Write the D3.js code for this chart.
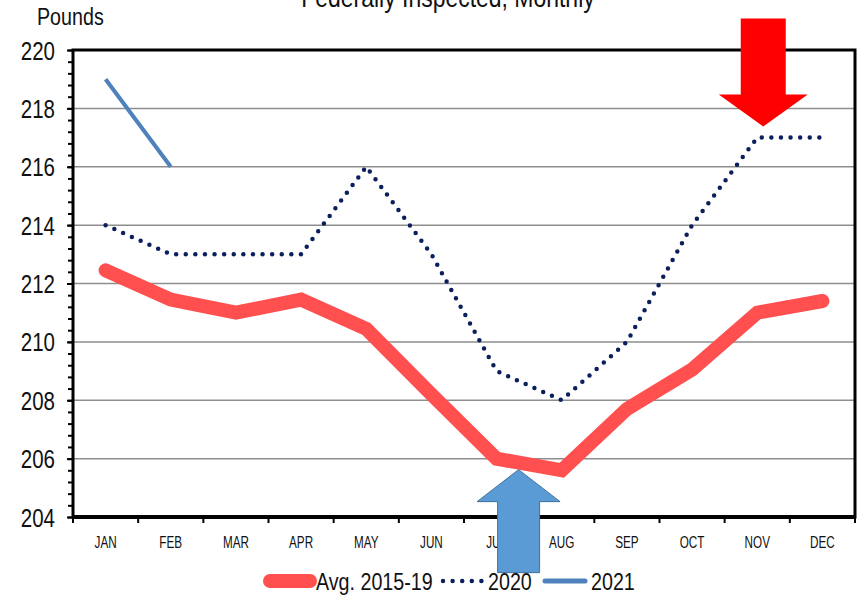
<!DOCTYPE html>
<html>
<head>
<meta charset="utf-8">
<script src="https://cdn.jsdelivr.net/npm/d3@7"></script>
<style>
  body { margin: 0; background: #fff; }
  svg { display: block; font-family: "Liberation Sans", Arial, sans-serif; }
</style>
</head>
<body>
<svg id="chart" width="862" height="602"></svg>
<script>
// chart data
const months = ["JAN","FEB","MAR","APR","MAY","JUN","JUL","AUG","SEP","OCT","NOV","DEC"];
const avg1519 = [212.45, 211.45, 211.0, 211.45, 210.45, 208.2, 206.0, 205.6, 207.7, 209.05, 211.0, 211.4];
const y2020 = [214, 213, 213, 213, 216, 213, 209, 208, 210, 214, 217, 217];
const y2021 = [219, 216];
const yTicks = [204, 206, 208, 210, 212, 214, 216, 218, 220];
const legendNames = ["Avg. 2015-19", "2020", "2021"];

const svg = d3.select("#chart");
const plotL = 73, plotR = 855, plotT = 50, plotB = 517;
const narrow = 0.82; // squeeze Liberation Sans to look like the narrow original font

const x = d3.scaleBand().domain(months).range([plotL, plotR]);
const y = d3.scaleLinear().domain([204, 220]).range([plotB, plotT]);
const cx = m => x(m) + x.bandwidth() / 2;

// title (cut off at the top) and unit label
svg.append("text")
  .attr("transform", `translate(448,7) scale(${narrow},1)`)
  .attr("text-anchor", "middle")
  .style("font-size", "28px").style("fill", "#111")
  .text("Federally Inspected, Monthly");

svg.append("text")
  .attr("transform", `translate(37,25) scale(${narrow},1)`)
  .style("font-size", "24px").style("fill", "#111")
  .text("Pounds");

// grid
svg.append("g").selectAll("line")
  .data(yTicks.filter(v => v > 204 && v < 220))
  .join("line")
    .attr("x1", plotL).attr("x2", plotR)
    .attr("y1", d => y(d)).attr("y2", d => y(d))
    .attr("stroke", "#8e8e8e").attr("stroke-width", 1.5);

// y axis, minor ticks then major
const minor = d3.range(0, 41).map(i => 204 + i * 0.4);
svg.append("g")
  .attr("transform", `translate(${plotL},0)`)
  .call(d3.axisLeft(y).tickValues(minor).tickSize(5).tickFormat(""))
  .call(g => g.select(".domain").remove())
  .call(g => g.selectAll("line").attr("stroke", "#000").attr("stroke-width", 2));

svg.append("g")
  .attr("transform", `translate(${plotL},0)`)
  .call(d3.axisLeft(y).tickValues(yTicks).tickSize(6).tickPadding(16).tickFormat(d3.format("d")))
  .call(g => g.select(".domain").remove())
  .call(g => g.selectAll("line").attr("stroke", "#000").attr("stroke-width", 2))
  .call(g => g.selectAll("text")
    .attr("dy", "0.36em")
    .attr("transform", `scale(${narrow},1)`)
    .style("font-size", "25px").style("fill", "#111")
    .style("font-family", "'Liberation Sans', Arial, sans-serif"));

// x axis labels and tick marks at band edges
svg.append("g")
  .attr("transform", `translate(0,${plotB})`)
  .call(d3.axisBottom(x).tickSize(0).tickPadding(19))
  .call(g => g.select(".domain").remove())
  .call(g => g.selectAll("text")
    .attr("transform", "scale(0.69,1)")
    .style("font-size", "17px").style("fill", "#111")
    .style("font-family", "'Liberation Sans', Arial, sans-serif"));

svg.append("g").selectAll("line")
  .data(months.map(m => x(m)).concat([x.range()[1]]))
  .join("line")
    .attr("x1", d => d).attr("x2", d => d)
    .attr("y1", plotB).attr("y2", plotB + 6)
    .attr("stroke", "#000").attr("stroke-width", 2);

// frame
svg.append("rect")
  .attr("x", plotL).attr("y", plotT)
  .attr("width", plotR - plotL).attr("height", plotB - plotT)
  .attr("fill", "none").attr("stroke", "#000").attr("stroke-width", 3);
svg.append("line")
  .attr("x1", plotL).attr("x2", plotR).attr("y1", plotB).attr("y2", plotB)
  .attr("stroke", "#000").attr("stroke-width", 4);

// series
const line = d3.line().x((d, i) => cx(months[i])).y(d => y(d));

svg.append("path").datum(avg1519)
  .attr("d", line).attr("fill", "none")
  .attr("stroke", "#ff4f4f").attr("stroke-width", 14)
  .attr("stroke-linecap", "round").attr("stroke-linejoin", "miter");

svg.append("path").datum(y2020)
  .attr("d", line).attr("fill", "none")
  .attr("stroke", "#0a1f5c").attr("stroke-width", 4.5)
  .attr("stroke-dasharray", "0 9.6").attr("stroke-linecap", "round");

svg.append("path").datum(y2021)
  .attr("d", line).attr("fill", "none")
  .attr("stroke", "#4f81bd").attr("stroke-width", 4);

// arrows
const arrow = (tx, ty, dir, shaftW, headW, headL, len) => {
  // dir = 1 points down, -1 points up
  const hb = ty - dir * headL, end = ty - dir * len;
  return `M${tx},${ty} L${tx - headW / 2},${hb} L${tx - shaftW / 2},${hb} L${tx - shaftW / 2},${end}
          L${tx + shaftW / 2},${end} L${tx + shaftW / 2},${hb} L${tx + headW / 2},${hb} Z`;
};
svg.append("path")
  .attr("d", arrow(cx("NOV") + 6, y(217) - 11, 1, 45, 89, 32, 108))
  .attr("fill", "#ff0000");
svg.append("path")
  .attr("d", arrow(cx("JUL") + 22, y(206) + 11, -1, 42, 83, 32, 103))
  .attr("fill", "#5b9bd5").attr("stroke", "#41719c").attr("stroke-width", 1);

// legend
const legend = svg.append("g").attr("transform", "translate(0,581)");
const items = [
  { x: 270, w: 40, color: "#ff4f4f", sw: 14, dash: null },
  { x: 443, w: 39, color: "#0a1f5c", sw: 4.5, dash: "0 9.6" },
  { x: 545, w: 40, color: "#4f81bd", sw: 5, dash: null }
];
items.forEach((it, i) => {
  legend.append("line")
    .attr("x1", it.x).attr("x2", it.x + it.w)
    .attr("stroke", it.color).attr("stroke-width", it.sw)
    .attr("stroke-linecap", "round")
    .attr("stroke-dasharray", it.dash);
  legend.append("text")
    .attr("transform", `translate(${it.x + it.w + 6},0) scale(${narrow},1)`)
    .attr("dy", "0.36em")
    .style("font-size", "24px").style("fill", "#111")
    .text(legendNames[i]);
});
</script>
</body>
</html>
